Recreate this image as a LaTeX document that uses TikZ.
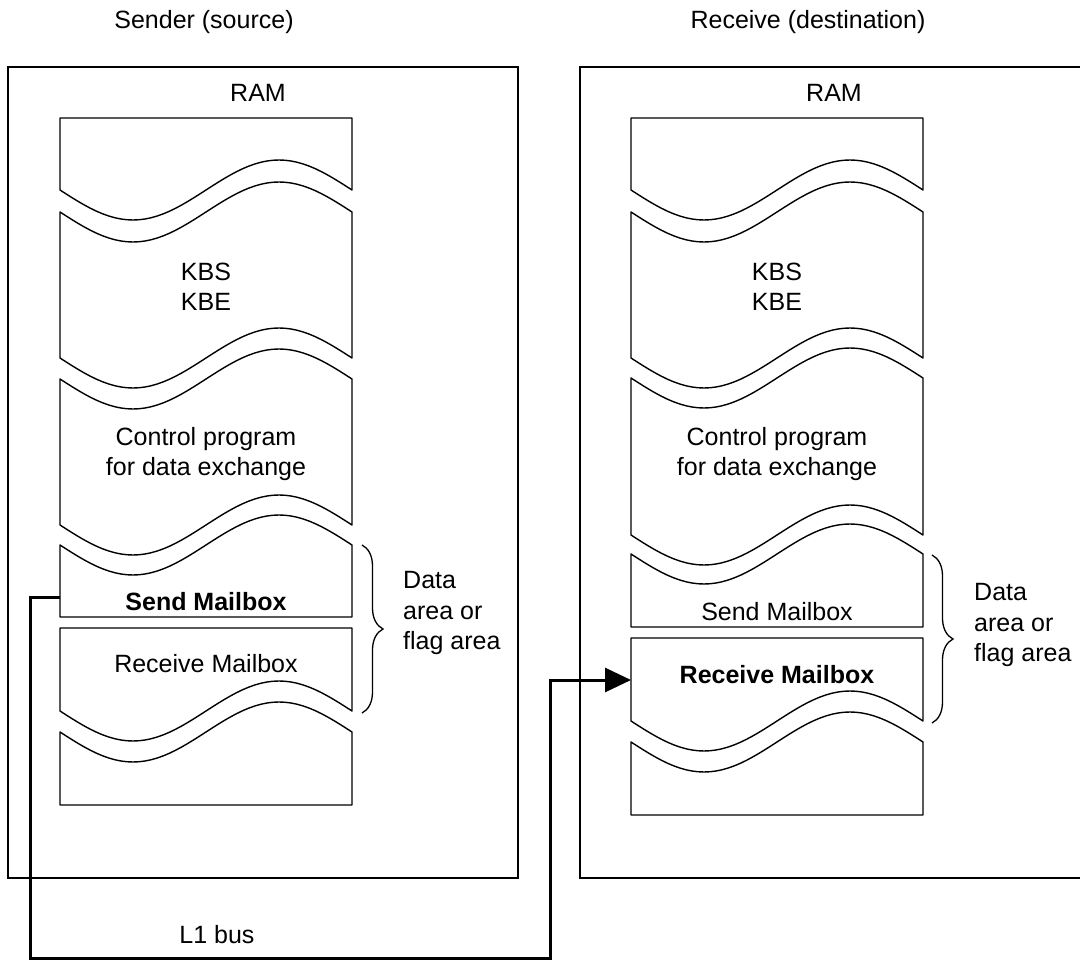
\documentclass[tikz,border=0pt]{standalone}
\usepackage{fontspec}
\setmainfont{Liberation Sans}
\usetikzlibrary{arrows.meta, decorations.pathreplacing}

% wavy cut of a memory slice (left x, centre y), drawn left->right or right->left
\newcommand{\wavefw}[2]{-- plot[wv] ({#1+\x},{#2+30*sin(1.232877*\x)})}
\newcommand{\wavebw}[2]{-- plot[wv] ({#1+292-\x},{#2-30*sin(1.232877*\x)})}

\begin{document}
\begin{tikzpicture}[x=1pt, y=-1pt,
    wv/.style={domain=0:292, samples=49},
    txt/.style={inner sep=0pt, font=\fontsize{25}{30.5}\selectfont},
    bld/.style={txt, font=\fontsize{25}{30.5}\selectfont\bfseries},
    frame/.style={line width=1.6pt},
    blk/.style={line width=1.4pt, line join=round},
    brc/.style={line width=1.3pt, decorate, decoration={brace, amplitude=21pt}},
    bus/.style={line width=3pt, line join=miter, -{Triangle[length=26pt, width=24pt]}}]
\useasboundingbox (0,0) rectangle (1080,960);

% sender side
\node[txt, anchor=base] (sender) at (204,29) {Sender (source)};
\draw[frame] (8,67) rectangle (518,878);
\node[txt, anchor=base] (ramL) at (258,102) {RAM};
\draw[blk] (60,118) -- (352,118) -- (352,190) \wavebw{60}{190} -- cycle;
\draw[blk] (60,212) \wavefw{60}{212} -- (352,358) \wavebw{60}{358} -- cycle;
\draw[blk] (60,379) \wavefw{60}{379} -- (352,525) \wavebw{60}{525} -- cycle;
\draw[blk] (60,545) \wavefw{60}{545} -- (352,617) -- (60,617) -- cycle;
\draw[blk] (60,628) -- (352,628) -- (352,711) \wavebw{60}{711} -- cycle;
\draw[blk] (60,732) \wavefw{60}{732} -- (352,805) -- (60,805) -- cycle;
\node[txt, align=center] (kbsL) at (206,287) {KBS\\KBE};
\node[txt, align=center] (cpL) at (206,454) {Control program\\for data exchange};
\node[bld, anchor=base] (sendL) at (206,610) {Send Mailbox};
\node[txt, anchor=base] (recvL) at (206,672) {Receive Mailbox};
\draw[brc] (362,545) -- (362,713);
\node[txt, align=left, anchor=west] (areaL) at (403,613) {Data\\area or\\flag area};

% receiver side
\node[txt, anchor=base] (receiver) at (808,29) {Receive (destination)};
\draw[frame] (1080,67) -| (580,878) -- (1080,878);
\node[txt, anchor=base] (ramR) at (834,102) {RAM};
\draw[blk] (631,118) -- (923,118) -- (923,190) \wavebw{631}{190} -- cycle;
\draw[blk] (631,212) \wavefw{631}{212} -- (923,358) \wavebw{631}{358} -- cycle;
\draw[blk] (631,378) \wavefw{631}{378} -- (923,535) \wavebw{631}{535} -- cycle;
\draw[blk] (631,554) \wavefw{631}{554} -- (923,627) -- (631,627) -- cycle;
\draw[blk] (631,638) -- (923,638) -- (923,721) \wavebw{631}{721} -- cycle;
\draw[blk] (631,742) \wavefw{631}{742} -- (923,815) -- (631,815) -- cycle;
\node[txt, align=center] (kbsR) at (777,287) {KBS\\KBE};
\node[txt, align=center] (cpR) at (777,454) {Control program\\for data exchange};
\node[txt, anchor=base] (sendR) at (777,620) {Send Mailbox};
\node[bld, anchor=base] (recvR) at (777,683) {Receive Mailbox};
\draw[brc] (932,555) -- (932,723);
\node[txt, align=left, anchor=west] (areaR) at (974,625) {Data\\area or\\flag area};

% L1 bus from send mailbox to receive mailbox
\coordinate (sendport) at (60,597);
\coordinate (recvport) at (631,680);
\coordinate (busL) at (30,958);
\coordinate (busR) at (550,958);
\draw[bus] (sendport) -| (busL) -- (busR) |- (recvport);
\node[txt, anchor=base] (l1) at (217,943) {L1 bus};
\end{tikzpicture}
\end{document}
